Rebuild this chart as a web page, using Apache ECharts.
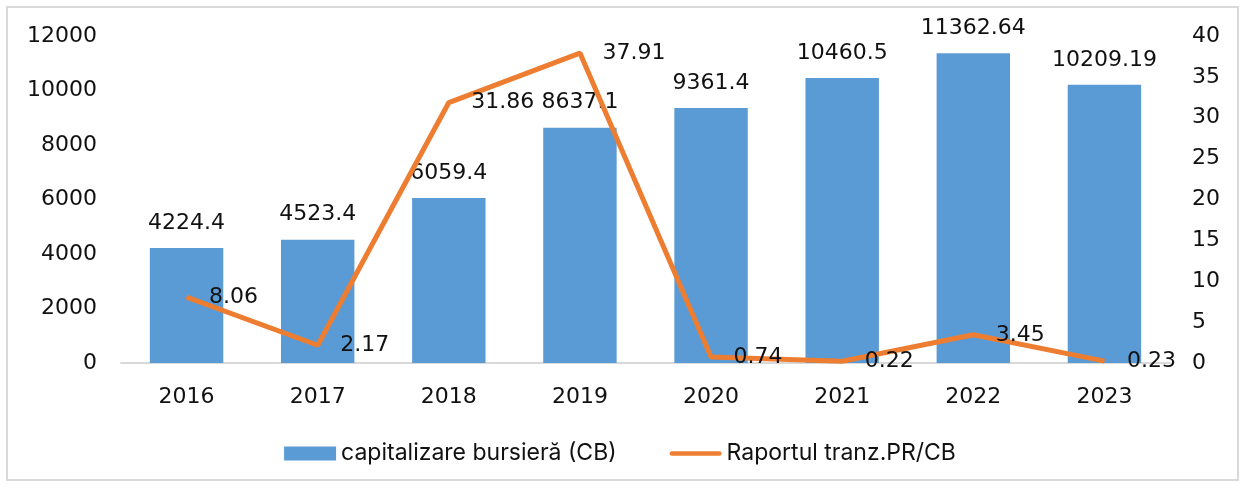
<!DOCTYPE html>
<html>
<head>
<meta charset="utf-8">
<script src="https://cdn.jsdelivr.net/npm/echarts@6/dist/echarts.min.js"></script>
<style>
html, body { margin: 0; padding: 0; background: #fff; }
#chart { width: 1240px; height: 486px; }
</style>
</head>
<body>
<div id="chart"></div>
<script>
const years = ['2016', '2017', '2018', '2019', '2020', '2021', '2022', '2023'];
const capitalizare = [4224.4, 4523.4, 6059.4, 8637.1, 9361.4, 10460.5, 11362.64, 10209.19];
const raportul = [8.06, 2.17, 31.86, 37.91, 0.74, 0.22, 3.45, 0.23];

const tickFont = { fontFamily: 'DejaVu Sans', fontSize: 22, color: '#111' };

let myChart = echarts.init(document.getElementById('chart'));
let option = {
	animation: false,
	graphic: [{
		type: 'rect',
		shape: { x: 7, y: 7, width: 1231, height: 473 },
		style: { fill: null, stroke: '#d9d9d9', lineWidth: 2 }
	}],
	grid: {
		left: 121,
		right: 70,
		top: 36,
		bottom: 123
	},
	legend: {
		top: 437,
		left: 'center',
		itemGap: 53,
		itemWidth: 52,
		itemHeight: 14,
		textStyle: { fontFamily: 'Inter', fontSize: 23, color: '#111' },
		data: [
			{ name: 'capitalizare bursieră (CB)', icon: 'rect' },
			{ name: 'Raportul tranz.PR/CB', icon: 'path://M2.5,0H53.5A2.5,2.5,0,0,1,53.5,5H2.5A2.5,2.5,0,0,1,2.5,0Z' }
		]
	},
	xAxis: {
		type: 'category',
		data: years,
		axisLine: { lineStyle: { color: '#d9d9d9', width: 2 } },
		axisTick: { show: false },
		axisLabel: Object.assign({ margin: 23 }, tickFont)
	},
	yAxis: [{
		type: 'value',
		min: 0,
		max: 12000,
		interval: 2000,
		splitLine: { show: false },
		axisLine: { show: false },
		axisLabel: Object.assign({ margin: 24, formatter: v => String(v) }, tickFont)
	}, {
		type: 'value',
		min: 0,
		max: 40,
		interval: 5,
		splitLine: { show: false },
		axisLine: { show: false },
		axisLabel: Object.assign({ margin: 22, formatter: v => String(v) }, tickFont)
	}],
	series: [{
		name: 'capitalizare bursieră (CB)',
		type: 'bar',
		data: capitalizare,
		barWidth: '56%',
		itemStyle: { color: '#5b9bd5' },
		label: {
			show: true,
			position: 'top',
			distance: 14,
			fontFamily: 'DejaVu Sans',
			fontSize: 22,
			color: '#111'
		}
	}, {
		name: 'Raportul tranz.PR/CB',
		type: 'line',
		yAxisIndex: 1,
		data: raportul,
		symbol: 'circle',
		symbolSize: 1,
		showSymbol: true,
		lineStyle: { color: '#ed7d31', width: 5 },
		itemStyle: { color: '#ed7d31' },
		label: {
			show: true,
			position: 'right',
			distance: 22,
			fontFamily: 'DejaVu Sans',
			fontSize: 22,
			color: '#111'
		}
	}]
};
myChart.setOption(option);
</script>
</body>
</html>
